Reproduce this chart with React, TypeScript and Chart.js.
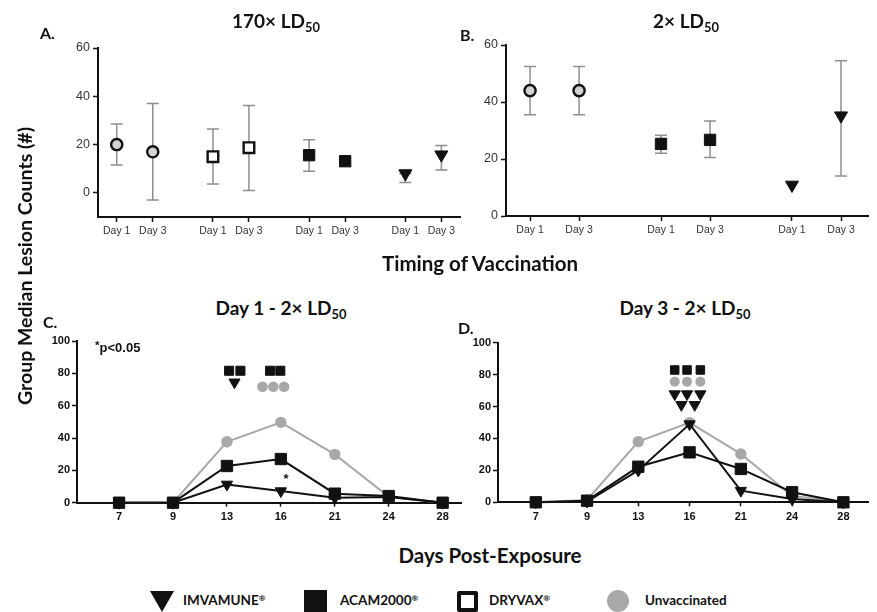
import React, { useEffect, useRef } from "react";
import { Chart, registerables } from "chart.js";
Chart.register(...registerables);

// ---------- Panels A & B : timing of vaccination ----------
const DAY_LABELS = ["Day 1", "Day 3"];
const GROUP_GAP = 2.67;

// Panel A (170x LD50) – groups in order: Unvaccinated, DRYVAX, ACAM2000, IMVAMUNE
const aUnvacc = [20, 17];
const aUnvaccLo = [11.5, -3];
const aUnvaccHi = [28.5, 37];
const aDryvax = [15, 18.7];
const aDryvaxLo = [3.7, 1];
const aDryvaxHi = [26.5, 36.2];
const aAcam = [15.6, 13.1];
const aAcamLo = [9, 13.1];
const aAcamHi = [22, 13.1];
const aImva = [8, 15.8];
const aImvaLo = [4.3, 9.5];
const aImvaHi = [8, 19.6];

// Panel B (2x LD50) – groups: Unvaccinated, ACAM2000, IMVAMUNE
const bUnvacc = [44, 44];
const bUnvaccLo = [35.5, 35.5];
const bUnvaccHi = [52.5, 52.5];
const bAcam = [25.3, 26.7];
const bAcamLo = [22, 20.5];
const bAcamHi = [28.3, 33.3];
const bImva = [10.9, 35.2];
const bImvaLo = [10.9, 14];
const bImvaHi = [10.9, 54.5];

const aYTicks = [0, 20, 40, 60];
const bYTicks = [0, 20, 40, 60];

// ---------- Panels C & D : days post-exposure ----------
const DAYS_POST = ["7", "9", "13", "16", "21", "24", "28"];
const cUnvacc = [0, 0, 37.7, 49.7, 29.9, 3.7, 0];
const cAcam = [0, 0, 22.7, 27, 5.6, 4.1, 0];
const cImva = [0, 0, 11.3, 7.2, 3, 3.5, 0];
const dUnvacc = [0, 1.5, 38, 49.9, 30.3, 4, 0];
const dAcam = [0, 1, 22.3, 31.3, 20.9, 6.3, 0];
const dImva = [0, 0.5, 20, 49, 7.3, 2, 0];
const cdYTicks = [0, 10, 20, 30, 40, 50, 60, 70, 80, 90, 100];

// significance symbols (data-space positions: x = day index, y = count level)
const cSigSquares = [{ x: 2.04, y: 81.6 }, { x: 2.25, y: 81.6 }, { x: 2.8, y: 81.6 }, { x: 2.99, y: 81.6 }];
const cSigTriangles = [{ x: 2.14, y: 74.5 }];
const cSigCircles = [{ x: 2.66, y: 71.7 }, { x: 2.86, y: 71.7 }, { x: 3.06, y: 71.7 }];
const dSigSquares = [{ x: 2.71, y: 82.9 }, { x: 2.95, y: 82.9 }, { x: 3.21, y: 82.9 }];
const dSigCircles = [{ x: 2.71, y: 75.6 }, { x: 2.95, y: 75.6 }, { x: 3.21, y: 75.6 }];
const dSigTriangles = [
  { x: 2.71, y: 67.8 }, { x: 2.95, y: 67.8 }, { x: 3.21, y: 67.8 },
  { x: 2.84, y: 61.1 }, { x: 3.1, y: 61.1 },
];

// ---------- styles ----------
const GRAY_FILL = "#d2d2d2";
const GRAY_LINE = "#a8a8a8";
const ERR_COLOR = "#8f8f8f";
const TEXT_FONT = "Lato, 'Open Sans', sans-serif";
const TICK_FONT = "'Liberation Sans', Arial, sans-serif";

const errorBarPlugin = {
  id: "errorBars",
  beforeDatasetsDraw(chart: any) {
    const { ctx, scales } = chart;
    const xs = scales.x;
    const ys = scales.y;
    ctx.save();
    ctx.strokeStyle = ERR_COLOR;
    ctx.lineWidth = 1.5;
    chart.data.datasets.forEach((ds: any) => {
      if (!ds.errLo) return;
      ds.data.forEach((p: any, j: number) => {
        const lo = ds.errLo[j];
        const hi = ds.errHi[j];
        if (lo === hi) return;
        const px = xs.getPixelForValue(p.x);
        const yl = ys.getPixelForValue(lo);
        const yh = ys.getPixelForValue(hi);
        const cap = 6;
        ctx.beginPath();
        ctx.moveTo(px, yl);
        ctx.lineTo(px, yh);
        ctx.moveTo(px - cap, yl);
        ctx.lineTo(px + cap, yl);
        ctx.moveTo(px - cap, yh);
        ctx.lineTo(px + cap, yh);
        ctx.stroke();
      });
    });
    ctx.restore();
  },
};

function groupPoints(values: number[], groupIndex: number) {
  return values.map((v, j) => ({ x: groupIndex * GROUP_GAP + j, y: v }));
}
function seriesPoints(values: number[]) {
  return values.map((v, i) => ({ x: i, y: v }));
}

function marker(style: string, radius: number, fill: string, border: string, bw: number) {
  return {
    pointStyle: style,
    rotation: style === "triangle" ? 180 : 0,
    pointRadius: radius,
    pointHoverRadius: radius,
    pointBackgroundColor: fill,
    pointBorderColor: border,
    pointBorderWidth: bw,
    backgroundColor: fill,
    borderColor: border,
    clip: false as any,
  };
}

function xAxis(opts: any) {
  return {
    type: "linear",
    min: opts.min,
    max: opts.max,
    afterBuildTicks: (s: any) => {
      s.ticks = opts.positions.map((v: number) => ({ value: v }));
    },
    afterFit: (s: any) => {
      s.height = opts.height;
    },
    ticks: {
      autoSkip: false,
      maxRotation: 0,
      padding: opts.padding,
      color: opts.color,
      font: { family: TICK_FONT, size: opts.size, weight: opts.bold ? "bold" : "normal" },
      callback: (_v: any, i: number) => opts.labels[i],
    },
    grid: { drawOnChartArea: false, drawTicks: true, tickLength: opts.tickLength, tickColor: "#111", tickWidth: 1.5 },
    border: { display: true, color: "#111", width: 2 },
  };
}

function yAxis(opts: any) {
  return {
    type: "linear",
    min: opts.min,
    max: opts.max,
    afterBuildTicks: (s: any) => {
      s.ticks = opts.ticks.map((v: number) => ({ value: v }));
    },
    afterFit: (s: any) => {
      s.width = opts.width;
    },
    ticks: {
      padding: opts.padding,
      color: opts.color,
      font: { family: TICK_FONT, size: opts.size, weight: opts.bold ? "bold" : "normal" },
    },
    grid: { drawOnChartArea: false, drawTicks: true, tickLength: opts.tickLength, tickColor: "#111", tickWidth: 1.5 },
    border: { display: true, color: "#111", width: 2 },
  };
}

function makeConfig(datasets: any[], x: any, y: any, padding: any) {
  return {
    type: "scatter",
    data: { datasets },
    options: {
      animation: false,
      responsive: false,
      devicePixelRatio: 1,
      layout: { padding },
      plugins: { legend: { display: false }, tooltip: { enabled: false }, title: { display: false } },
      events: [],
      scales: { x, y },
    },
    plugins: [errorBarPlugin],
  };
}

function errDs(values: number[], lo: number[], hi: number[], gi: number, mk: any) {
  return { data: groupPoints(values, gi), errLo: lo, errHi: hi, showLine: false, ...mk };
}

const dayPositionsA = [0, 1, 2, 3].flatMap((g) => DAY_LABELS.map((_, j) => g * GROUP_GAP + j));
const dayLabelsA = [0, 1, 2, 3].flatMap(() => DAY_LABELS);
const dayPositionsB = [0, 1, 2].flatMap((g) => DAY_LABELS.map((_, j) => g * GROUP_GAP + j));
const dayLabelsB = [0, 1, 2].flatMap(() => DAY_LABELS);

const configA = makeConfig(
  [
    errDs(aAcam, aAcamLo, aAcamHi, 2, marker("rect", 8, "#111", "#111", 1)),
    errDs(aImva, aImvaLo, aImvaHi, 3, marker("triangle", 7.5, "#111", "#111", 1)),
    errDs(aDryvax, aDryvaxLo, aDryvaxHi, 1, marker("rect", 7.5, "#fff", "#111", 2.4)),
    errDs(aUnvacc, aUnvaccLo, aUnvaccHi, 0, marker("circle", 5.6, GRAY_FILL, "#111", 2.4)),
  ],
  xAxis({ min: -0.52, max: 9.53, positions: dayPositionsA, labels: dayLabelsA, height: 35, padding: 3, size: 10.5, color: "#333", tickLength: 5 }),
  yAxis({ min: -10, max: 60, ticks: aYTicks, width: 58, padding: 3, size: 12.5, color: "#333", tickLength: 5 }),
  { top: 18, right: 7, left: 0, bottom: 0 }
);

const configB = makeConfig(
  [
    errDs(bAcam, bAcamLo, bAcamHi, 1, marker("rect", 8, "#111", "#111", 1)),
    errDs(bImva, bImvaLo, bImvaHi, 2, marker("triangle", 7.5, "#111", "#111", 1)),
    errDs(bUnvacc, bUnvaccLo, bUnvaccHi, 0, marker("circle", 5.6, GRAY_FILL, "#111", 2.4)),
  ],
  xAxis({ min: -0.49, max: 6.89, positions: dayPositionsB, labels: dayLabelsB, height: 37, padding: 3, size: 10.5, color: "#333", tickLength: 5 }),
  yAxis({ min: 0, max: 60, ticks: bYTicks, width: 56, padding: 3, size: 12.5, color: "#333", tickLength: 5 }),
  { top: 17, right: 2, left: 0, bottom: 0 }
);

function lineSet(values: number[], color: string, mk: any) {
  const d: any = { data: seriesPoints(values), showLine: true, ...mk };
  d.borderColor = color;
  d.borderWidth = 2;
  return d;
}
function sigSet(points: any[], mk: any) {
  return { data: points, showLine: false, ...mk };
}

const dayIdx = DAYS_POST.map((_, i) => i);

const configC = makeConfig(
  [
    lineSet(cAcam, "#111", marker("rect", 8, "#111", "#111", 1)),
    lineSet(cImva, "#111", marker("triangle", 6.5, "#111", "#111", 1)),
    lineSet(cUnvacc, GRAY_LINE, marker("circle", 5.7, GRAY_LINE, GRAY_LINE, 0)),
    sigSet(cSigSquares, marker("rect", 6.4, "#111", "#111", 1)),
    sigSet(cSigTriangles, marker("triangle", 6.4, "#111", "#111", 1)),
    sigSet(cSigCircles, marker("circle", 5.3, GRAY_LINE, GRAY_LINE, 0)),
  ],
  xAxis({ min: -0.78, max: 6.34, positions: dayIdx, labels: DAYS_POST, height: 27.3, padding: 4, size: 11, bold: true, color: "#111", tickLength: 4 }),
  yAxis({ min: 0, max: 100, ticks: cdYTicks, width: 47, padding: 2, size: 11, bold: true, color: "#111", tickLength: 5 }),
  { top: 11, right: 0, left: 0, bottom: 0 }
);

const configD = makeConfig(
  [
    lineSet(dAcam, "#111", marker("rect", 8, "#111", "#111", 1)),
    lineSet(dImva, "#111", marker("triangle", 6.5, "#111", "#111", 1)),
    lineSet(dUnvacc, GRAY_LINE, marker("circle", 5.7, GRAY_LINE, GRAY_LINE, 0)),
    sigSet(dSigSquares, marker("rect", 6, "#111", "#111", 1)),
    sigSet(dSigCircles, marker("circle", 5, GRAY_LINE, GRAY_LINE, 0)),
    sigSet(dSigTriangles, marker("triangle", 6.5, "#111", "#111", 1)),
  ],
  xAxis({ min: -0.737, max: 6.48, positions: dayIdx, labels: DAYS_POST, height: 27.7, padding: 4, size: 11, bold: true, color: "#111", tickLength: 4 }),
  yAxis({ min: 0, max: 100, ticks: cdYTicks, width: 28, padding: 2, size: 11, bold: true, color: "#111", tickLength: 5 }),
  { top: 12.7, right: 0, left: 0, bottom: 0 }
);

function Panel({ config, left, top, width, height }: any) {
  const ref = useRef<HTMLCanvasElement>(null);
  useEffect(() => {
    const chart = new Chart(ref.current as HTMLCanvasElement, config as any);
    return () => chart.destroy();
  }, [config]);
  return (
    <canvas
      ref={ref}
      width={width}
      height={height}
      style={{ position: "absolute", left, top, width, height }}
    />
  );
}

function Label({ x, y, size, children, anchor = "center", style = {} }: any) {
  const tx = anchor === "left" ? "0" : "-50%";
  return (
    <div
      style={{
        position: "absolute",
        left: x,
        top: y,
        transform: `translate(${tx}, -50%)`,
        whiteSpace: "nowrap",
        fontFamily: TEXT_FONT,
        fontWeight: 700,
        fontSize: size,
        color: "#111",
        lineHeight: 1,
        ...style,
      }}
    >
      {children}
    </div>
  );
}

const Sub = ({ children }: any) => (
  <span style={{ fontSize: "0.68em", position: "relative", top: "0.28em" }}>{children}</span>
);
const Reg = () => <span style={{ fontSize: "0.6em", position: "relative", top: "-0.45em" }}>®</span>;

export default function App() {
  return (
    <div style={{ position: "absolute", left: 0, top: 0, width: 877, height: 612, background: "#fff", overflow: "hidden" }}>
      <Panel config={configA} left={40} top={30} width={430} height={222} />
      <Panel config={configB} left={450} top={28} width={427} height={225} />
      <Panel config={configC} left={30} top={330} width={440} height={200} />
      <Panel config={configD} left={470} top={330} width={407} height={200} />

      <Label x={276} y={20} size={19}>170× LD<Sub>50</Sub></Label>
      <Label x={686} y={20} size={19}>2× LD<Sub>50</Sub></Label>
      <Label x={281} y={307} size={19}>Day 1 - 2× LD<Sub>50</Sub></Label>
      <Label x={685} y={307} size={19}>Day 3 - 2× LD<Sub>50</Sub></Label>

      <Label x={40} y={33} size={16} anchor="left">A.</Label>
      <Label x={460} y={35} size={16} anchor="left">B.</Label>
      <Label x={43} y={322} size={16} anchor="left">C.</Label>
      <Label x={458} y={328} size={16} anchor="left">D.</Label>

      <Label x={480} y={263} size={20.5}>Timing of Vaccination</Label>
      <Label x={490} y={555} size={20.5}>Days Post-Exposure</Label>

      <Label x={25} y={266} size={19.5} style={{ transform: "translate(-50%, -50%) rotate(-90deg)" }}>
        Group Median Lesion Counts (#)
      </Label>

      <Label x={95} y={347} size={13} anchor="left" style={{ fontFamily: TICK_FONT }}>
        <span style={{ position: "relative", top: "-0.3em", fontSize: "0.9em" }}>*</span>p&lt;0.05
      </Label>
      <Label x={286} y={478} size={13} style={{ fontFamily: TICK_FONT }}>*</Label>

      {/* legend */}
      <svg style={{ position: "absolute", left: 150, top: 591 }} width={24} height={21}>
        <polygon points="0,0 24,0 12,21" fill="#111" />
      </svg>
      <Label x={183} y={601} size={13.5} anchor="left">IMVAMUNE<Reg /></Label>
      <div style={{ position: "absolute", left: 304, top: 590, width: 23, height: 23, background: "#111" }} />
      <Label x={340} y={601} size={13.5} anchor="left">ACAM2000<Reg /></Label>
      <div style={{ position: "absolute", left: 457, top: 591, width: 13, height: 13, border: "4px solid #111", background: "#fff", borderRadius: 2 }} />
      <Label x={489} y={601} size={13.5} anchor="left">DRYVAX<Reg /></Label>
      <div style={{ position: "absolute", left: 607, top: 590, width: 22, height: 22, borderRadius: "50%", background: "#a8a8a8" }} />
      <Label x={645} y={601} size={13.5} anchor="left">Unvaccinated</Label>
    </div>
  );
}
